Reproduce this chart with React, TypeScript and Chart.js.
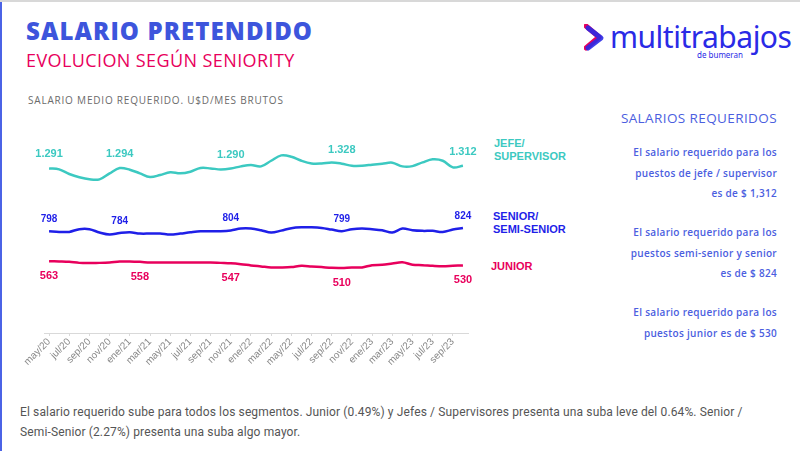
import React, { useEffect, useRef } from "react";
import { Chart, registerables } from "chart.js";

Chart.register(...registerables);

const months = [
  "may/20","jun/20","jul/20","ago/20","sep/20","oct/20","nov/20","dic/20",
  "ene/21","feb/21","mar/21","abr/21","may/21","jun/21","jul/21","ago/21","sep/21","oct/21","nov/21","dic/21",
  "ene/22","feb/22","mar/22","abr/22","may/22","jun/22","jul/22","ago/22","sep/22","oct/22","nov/22","dic/22",
  "ene/23","feb/23","mar/23","abr/23","may/23","jun/23","jul/23","ago/23","sep/23","oct/23",
];

const jefe = [
  1291,1283,1247,1221,1205,1205,1252,1294,1281,1252,1223,1239,1260,1252,1265,1294,1291,1283,1290,1307,
  1317,1307,1351,1393,1383,1351,1330,1330,1338,1328,1312,1312,1320,1328,1336,1307,1309,1338,1362,1351,1299,1312,
];
const senior = [
  798,793,793,814,814,788,772,784,790,780,780,780,772,780,790,798,798,798,804,819,
  819,806,788,803,822,829,829,824,811,799,814,819,814,806,788,819,806,801,801,793,811,824,
];
const junior = [
  563,561,558,550,550,550,553,561,561,558,553,553,553,553,553,553,553,550,547,540,
  530,522,514,514,517,527,522,517,511,510,514,514,532,535,545,555,535,532,527,524,527,530,
];

const jefeLabelIdx = [0, 7, 18, 29, 41];
const seniorLabelIdx = [0, 7, 18, 29, 41];
const juniorLabelIdx = [0, 9, 18, 29, 41];

const TEAL = "#3cc9c1";
const BLUE = "#1f1fe8";
const PINK = "#e8005c";

const fmt = (v: number) => {
  const s = String(Math.round(v));
  return s.length > 3 ? s.slice(0, s.length - 3) + "." + s.slice(-3) : s;
};

const labelPlugin = {
  id: "pointLabels",
  afterDatasetsDraw(chart: any) {
    const { ctx } = chart;
    const cfg = [
      { ds: 0, idx: jefeLabelIdx, dy: -14, color: TEAL, size: 11 },
      { ds: 1, idx: seniorLabelIdx, dy: -12, color: BLUE, size: 10 },
      { ds: 2, idx: juniorLabelIdx, dy: 15, color: PINK, size: 11 },
    ];
    ctx.save();
    ctx.textAlign = "center";
    ctx.textBaseline = "middle";
    cfg.forEach((c) => {
      const meta = chart.getDatasetMeta(c.ds);
      const data = chart.data.datasets[c.ds].data as number[];
      ctx.font = `bold ${c.size}px "Liberation Sans", Arial, sans-serif`;
      ctx.fillStyle = c.color;
      c.idx.forEach((i) => {
        const el = meta.data[i];
        ctx.fillText(fmt(data[i]), el.x, el.y + c.dy);
      });
    });
    ctx.restore();
  },
};

function LineChart() {
  const ref = useRef<HTMLCanvasElement>(null);
  useEffect(() => {
    if (!ref.current) return;
    const chart = new Chart(ref.current, {
      type: "line",
      data: {
        labels: months,
        datasets: [
          { data: jefe, borderColor: TEAL, borderWidth: 2.5, pointRadius: 0, tension: 0.35 },
          { data: senior, borderColor: BLUE, borderWidth: 2.5, pointRadius: 0, tension: 0.35 },
          { data: junior, borderColor: PINK, borderWidth: 2.5, pointRadius: 0, tension: 0.35 },
        ],
      },
      options: {
        animation: false,
        responsive: false,
        layout: { padding: { left: 44, right: 12, top: 10, bottom: 10 } },
        plugins: { legend: { display: false }, tooltip: { enabled: false } },
        scales: {
          x: {
            offset: true,
            grid: {
              display: true,
              drawOnChartArea: false,
              drawTicks: true,
              tickLength: 3,
              color: (c: any) => (c.index % 2 === 0 ? "#d9d9d9" : "rgba(0,0,0,0)"),
            },
            border: { display: true, color: "#d9d9d9", width: 1 },
            ticks: {
              autoSkip: false,
              maxRotation: 45,
              minRotation: 45,
              padding: 0,
              color: "#888888",
              font: { size: 10, family: "'Liberation Sans', Arial, sans-serif" },
              callback: (_v: any, i: number) => (i % 2 === 0 ? months[i] : ""),
            },
            afterFit: (s: any) => {
              s.height = 46;
            },
          },
          y: { display: false, min: 0, max: 1600 },
        },
      },
      plugins: [labelPlugin],
    });
    return () => chart.destroy();
  }, []);
  return (
    <canvas
      ref={ref}
      width={480}
      height={270}
      style={{ position: "absolute", left: 0, top: 117, width: 480, height: 270 }}
    />
  );
}

export default function App() {
  const sans = "'Open Sans', 'Noto Sans', sans-serif";
  const rp: React.CSSProperties = {
    position: "absolute",
    right: 23,
    textAlign: "right",
    color: "#4b5ee0",
    fontFamily: sans,
    fontWeight: 600,
    fontSize: 10,
    letterSpacing: 0.3,
    lineHeight: "20.5px",
    whiteSpace: "nowrap",
  };
  const leg: React.CSSProperties = {
    position: "absolute",
    fontFamily: "'Liberation Sans', Arial, sans-serif",
    fontWeight: 700,
    fontSize: 11,
    lineHeight: "13px",
  };
  return (
    <div
      style={{
        position: "fixed",
        left: 0,
        top: 0,
        width: 800,
        height: 451,
        background: "#fff",
        overflow: "hidden",
        borderTop: "2px solid #d8d8d8",
        boxSizing: "border-box",
      }}
    >
      <div style={{ position: "absolute", left: 0, top: 0, width: 2, height: 451, background: "#4b63e6" }} />
      <div style={{ position: "absolute", left: 26, top: 12, fontFamily: sans, fontWeight: 800, fontSize: 24, color: "#3d55dc", letterSpacing: 1.1, whiteSpace: "nowrap" }}>
        SALARIO PRETENDIDO
      </div>
      <div style={{ position: "absolute", left: 26, top: 46, fontFamily: sans, fontWeight: 500, fontSize: 18, color: "#e8005c", letterSpacing: 0.4, whiteSpace: "nowrap" }}>
        EVOLUCION SEGÚN SENIORITY
      </div>
      <div style={{ position: "absolute", left: 28, top: 91, fontFamily: sans, fontWeight: 500, fontSize: 10, color: "#6b6b6b", letterSpacing: 0.8, whiteSpace: "nowrap" }}>
        SALARIO MEDIO REQUERIDO. U$D/MES BRUTOS
      </div>

      {/* logo */}
      <svg style={{ position: "absolute", left: 584, top: 22 }} width={22} height={28} viewBox="0 0 22 28">
        <path d="M3 3 L16 14 L3 25" stroke="#e8005c" strokeWidth={5} fill="none" strokeLinecap="round" strokeLinejoin="round" transform="translate(-1,-1)" />
        <path d="M4 4 L17 14 L4 24" stroke="#2a2ae6" strokeWidth={5} fill="none" strokeLinecap="round" strokeLinejoin="round" opacity={0.9} />
      </svg>
      <div style={{ position: "absolute", left: 610, top: 14, fontFamily: "'Noto Sans', sans-serif", fontWeight: 400, fontSize: 30, color: "#2a2ae6", letterSpacing: -0.5 }}>
        multitrabajos
      </div>
      <div style={{ position: "absolute", left: 697, top: 47, fontFamily: "'Noto Sans', sans-serif", fontSize: 8, color: "#2a2ae6" }}>
        de bumeran
      </div>

      <LineChart />

      <div style={{ ...leg, left: 494, top: 135, color: TEAL }}>JEFE/<br />SUPERVISOR</div>
      <div style={{ ...leg, left: 493, top: 208, color: BLUE }}>SENIOR/<br />SEMI-SENIOR</div>
      <div style={{ ...leg, left: 491, top: 258, color: PINK }}>JUNIOR</div>

      <div style={{ ...rp, top: 106, fontSize: 13.5, fontWeight: 500, letterSpacing: 0.4, color: "#4b5ee0" }}>SALARIOS REQUERIDOS</div>
      <div style={{ ...rp, top: 140 }}>
        El salario requerido para los<br />puestos de jefe / supervisor<br />es de $ 1,312
      </div>
      <div style={{ ...rp, top: 220 }}>
        El salario requerido para los<br />puestos semi-senior y senior<br />es de $ 824
      </div>
      <div style={{ ...rp, top: 300 }}>
        El salario requerido para los<br />puestos junior es de $ 530
      </div>

      <div style={{ position: "absolute", left: 20, top: 400, width: 780, fontFamily: "Roboto, sans-serif", fontSize: 12, lineHeight: "20px", letterSpacing: 0.13, color: "#555", whiteSpace: "nowrap" }}>
        El salario requerido sube para todos los segmentos. Junior (0.49%) y Jefes / Supervisores presenta una suba leve del 0.64%. Senior /<br />
        Semi-Senior (2.27%) presenta una suba algo mayor.
      </div>
    </div>
  );
}
